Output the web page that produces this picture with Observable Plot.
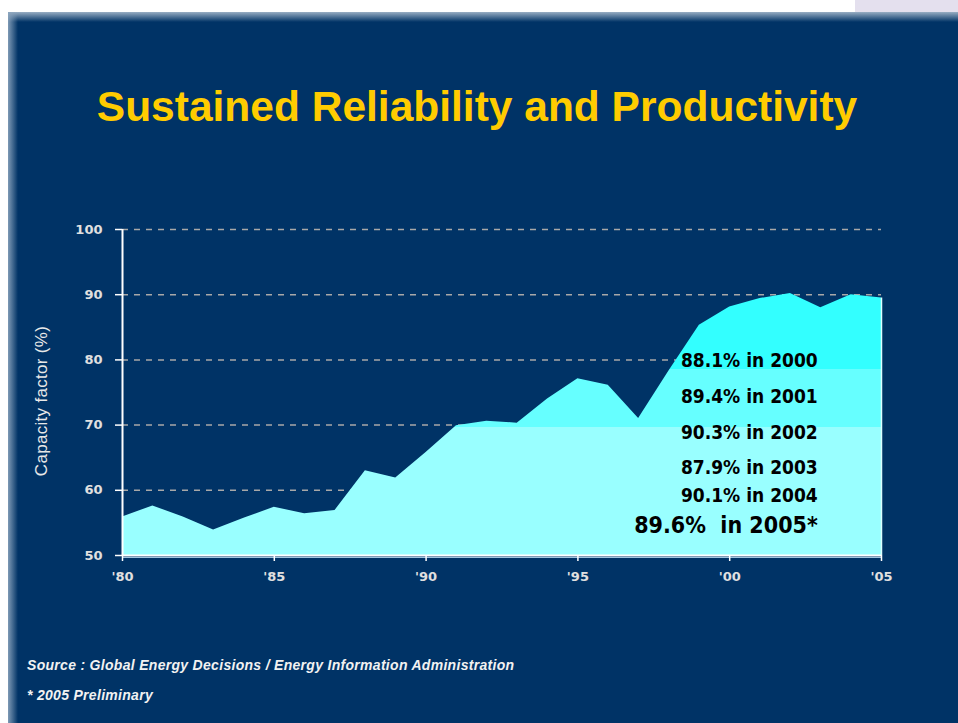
<!DOCTYPE html>
<html>
<head>
<meta charset="utf-8">
<script src="https://cdn.jsdelivr.net/npm/d3@7"></script>
<script src="https://cdn.jsdelivr.net/npm/@observablehq/plot@0.6"></script>
<style>
  html, body { margin: 0; padding: 0; background: #ffffff; }
  #page { position: relative; width: 958px; height: 723px; overflow: hidden; background: #ffffff; }
  #lav { position: absolute; left: 855px; top: 0; width: 103px; height: 12px; background: #e4e0ee; }
  #panel { position: absolute; left: 8px; top: 12px; width: 950px; height: 711px; background: #003366; }
  #topfade { position: absolute; left: 8px; top: 12px; width: 950px; height: 10px;
    background: linear-gradient(to bottom, rgba(160,180,200,0.95), rgba(0,51,102,0)); }
  #leftfade { position: absolute; left: 8px; top: 12px; width: 10px; height: 711px;
    background: linear-gradient(to right, rgba(140,165,190,0.9), rgba(0,51,102,0)); }
  #chart { position: absolute; left: 0; top: 0; }
  #title { position: absolute; left: 0; top: 86px; width: 954px; text-align: center;
    font-family: "Liberation Sans", Arial, sans-serif; font-weight: bold; font-size: 42.5px; line-height: 42px;
    color: #ffcc00; white-space: nowrap; }
  #ylabel { position: absolute; left: 42px; top: 401px; transform: translate(-50%, -50%) rotate(-90deg);
    font-family: "Liberation Sans", Arial, sans-serif; font-size: 17px; letter-spacing: 0.3px; color: #e8e8e8; white-space: nowrap; }
  .note { position: absolute; left: 27px; font-family: "Liberation Sans", Arial, sans-serif; font-style: italic;
    font-weight: bold; font-size: 14px; line-height: 14px; color: #f2f2f2; white-space: nowrap; letter-spacing: 0.3px; }
</style>
</head>
<body>
<div id="page">
  <div id="lav"></div>
  <div id="panel"></div>
  <div id="topfade"></div>
  <div id="leftfade"></div>
  <div id="chart"></div>
  <div id="title">Sustained Reliability and Productivity</div>
  <div id="ylabel">Capacity factor (%)</div>
  <div class="note" style="top:658px">Source : Global Energy Decisions / Energy Information Administration</div>
  <div class="note" style="top:688px">* 2005 Preliminary</div>
</div>
<script>
// ---- data ----
const years = [1980,1981,1982,1983,1984,1985,1986,1987,1988,1989,1990,1991,1992,1993,1994,1995,1996,1997,1998,1999,2000,2001,2002,2003,2004,2005];
const capacity = [55.9,57.6,55.9,53.9,55.7,57.4,56.4,56.9,63.0,61.9,65.8,69.9,70.6,70.3,74.0,77.1,76.1,71.0,78.3,85.3,88.1,89.4,90.2,88.0,90.0,89.5];
const yTicks = [50,60,70,80,90,100];
const gridTicks = [60,70,80,90,100];
const xTicks = [1980,1985,1990,1995,2000,2005];
const bandBreaks = [69.6, 78.5];
const bandColors = ["#99ffff","#66ffff","#33ffff"];
const noteLabels = ["88.1% in 2000","89.4% in 2001","90.3% in 2002","87.9% in 2003","90.1% in 2004","89.6%  in 2005*"];
const noteValues = [79.9,74.3,68.8,63.5,59.1,54.6];
const noteYear = 2002.9;

const data = years.map((y,i) => ({year: y, value: capacity[i]}));
const notes = noteLabels.map((t,i) => ({label: t, value: noteValues[i], year: noteYear, big: i === noteLabels.length - 1}));
const last = data[data.length - 1];

const chart = Plot.plot({
  width: 958,
  height: 600,
  marginLeft: 122,
  marginRight: 77,
  marginTop: 229,
  marginBottom: 45,
  style: {background: "transparent", color: "#e0e0e0", fontFamily: "'DejaVu Sans', Verdana, sans-serif", fontSize: "13px", fontWeight: "bold", overflow: "visible"},
  x: {domain: [1980, 2005]},
  y: {domain: [50, 100]},
  marks: [
    Plot.ruleY(gridTicks, {stroke: "#a8a8a8", strokeWidth: 1.5, strokeDasharray: "6,6"}),
    Plot.areaY(data, {x: "year", y1: 50, y2: "value", fill: "url(#cfBands)"}),
    Plot.ruleX([last], {x: "year", y1: 50, y2: "value", stroke: "#dcffff", strokeWidth: 1.5}),
    Plot.ruleY([50], {stroke: "#ffffff", strokeWidth: 2}),
    Plot.ruleY([50], {stroke: "#9fc6e0", strokeWidth: 1, dy: 2}),
    Plot.ruleX([1980], {y1: 50, y2: 100, stroke: "#ffffff", strokeWidth: 2}),
    Plot.axisX({ticks: xTicks, tickSize: 6, tickPadding: 10, stroke: "#ffffff", strokeWidth: 1.5,
      tickFormat: d => "'" + String(d).slice(2), label: null}),
    Plot.axisY({ticks: yTicks, tickSize: 7, tickPadding: 13, stroke: "#ffffff", strokeWidth: 1.5, label: null}),
    Plot.text(notes.filter(d => !d.big), {x: "year", y: "value", text: "label", textAnchor: "end",
      fill: "#000000", fontFamily: "'DejaVu Sans Condensed', 'DejaVu Sans', sans-serif", fontWeight: "bold", fontSize: 19}),
    Plot.text(notes.filter(d => d.big), {x: "year", y: "value", text: "label", textAnchor: "end",
      fill: "#000000", fontFamily: "'DejaVu Sans Condensed', 'DejaVu Sans', sans-serif", fontWeight: "bold", fontSize: 23})
  ]
});

// band gradient built from the chart's own y scale
const ys = chart.scale("y");
const yBottom = ys.apply(50), yTop = ys.apply(100);
const frac = v => (yBottom - ys.apply(v)) / (yBottom - yTop);
const ns = "http://www.w3.org/2000/svg";
const defs = document.createElementNS(ns, "defs");
const grad = document.createElementNS(ns, "linearGradient");
grad.setAttribute("id", "cfBands");
grad.setAttribute("gradientUnits", "userSpaceOnUse");
grad.setAttribute("x1", 0); grad.setAttribute("x2", 0);
grad.setAttribute("y1", yBottom); grad.setAttribute("y2", yTop);
const stops = [];
const edges = [0, ...bandBreaks.map(frac), 1];
bandColors.forEach((c, i) => { stops.push([edges[i], c]); stops.push([edges[i + 1], c]); });
stops.forEach(([o, c]) => {
  const s = document.createElementNS(ns, "stop");
  s.setAttribute("offset", o);
  s.setAttribute("stop-color", c);
  grad.appendChild(s);
});
defs.appendChild(grad);
chart.insertBefore(defs, chart.firstChild);

document.getElementById("chart").appendChild(chart);
</script>
</body>
</html>
